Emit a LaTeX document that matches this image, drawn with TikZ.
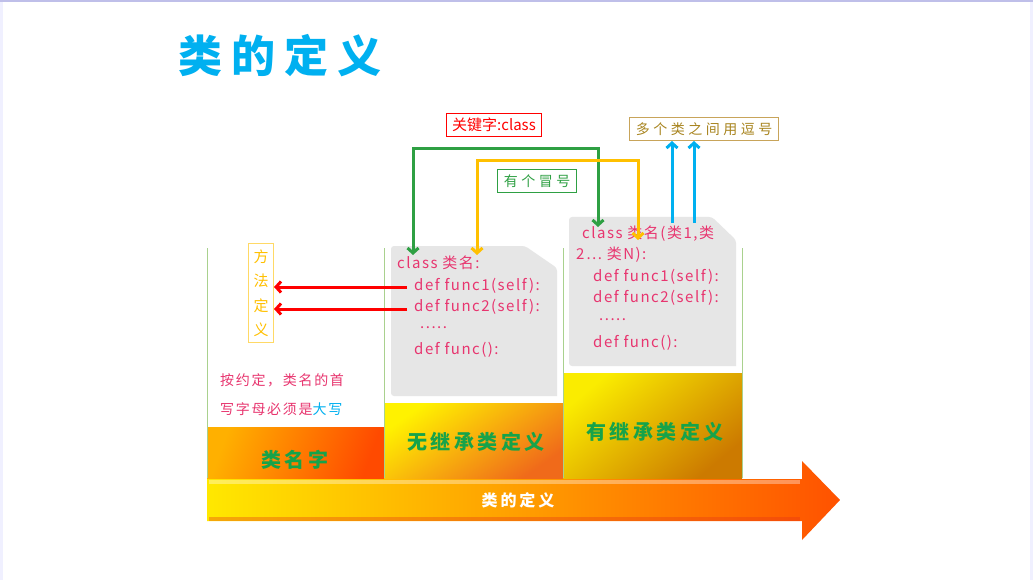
\documentclass[tikz,border=0pt]{standalone}
\usepackage{fontspec}
\setmainfont{Noto Sans CJK SC}
\usetikzlibrary{arrows.meta}

\definecolor{skyblue}{HTML}{00B0F0}
\definecolor{codepink}{HTML}{E8356F}
\definecolor{linkgreen}{HTML}{2EA043}
\definecolor{titlegreen}{HTML}{16A34A}
\definecolor{amber}{HTML}{FFC000}
\definecolor{tanline}{HTML}{C8A45A}
\definecolor{tantext}{HTML}{A8841E}
\definecolor{colline}{HTML}{A9D18E}
\definecolor{cardgray}{HTML}{E6E6E6}
\definecolor{blockAtop}{HTML}{FFB000}
\definecolor{blockAbot}{HTML}{FF4A00}
\definecolor{blockBtop}{HTML}{FFF200}
\definecolor{blockBmid}{HTML}{F59A1C}
\definecolor{blockBbot}{HTML}{F06A1A}
\definecolor{blockCtop}{HTML}{FAEC00}
\definecolor{blockCmid}{HTML}{DC9A00}
\definecolor{blockCbot}{HTML}{CC7A00}
\definecolor{arrowL}{HTML}{FFE800}
\definecolor{arrowM}{HTML}{FF9A00}
\definecolor{arrowR}{HTML}{FF5200}

\tikzset{
  tip/.style={-{Straight Barb[length=5pt,width=11pt]}},
  twotip/.style={{Straight Barb[length=5pt,width=11pt]}-{Straight Barb[length=5pt,width=11pt]}},
  link/.style={line width=3pt},
  code/.style={anchor=west, inner sep=0pt, text=codepink,
    font=\fontsize{15}{16}\selectfont\addfontfeature{LetterSpace=10}},
  coltitle/.style={text=titlegreen, font=\fontsize{20}{22}\selectfont\bfseries\addfontfeature{LetterSpace=18}},
  tag/.style={draw, line width=1pt, inner xsep=6pt, inner ysep=5pt, fill=white},
  colrule/.style={draw=colline, line width=0.8pt},
}

\begin{document}
\begin{tikzpicture}[x=1pt,y=-1pt]
\useasboundingbox (0,0) rectangle (1033,580);
\fill[white] (0,0) rectangle (1033,580);
% slide frame
\fill[blue!6] (0,0) rectangle (3,580);
\fill[blue!6] (1030,0) rectangle (1033,580);
\fill[black!35!blue!25] (0,0) rectangle (1033,2);

% title
\node[anchor=west, text=skyblue, inner sep=0pt,
      font=\fontsize{44}{46}\selectfont\bfseries\addfontfeature{LetterSpace=21}]
  (title) at (178,56) {类的定义};

% coloured column blocks
\shade[top color=blockAtop, bottom color=blockAbot, shading angle=70]
  (207,427) rectangle (384,478);
\shade[top color=blockBtop, middle color=blockBmid, bottom color=blockBbot, shading angle=35]
  (384,403) rectangle (563,478);
\shade[top color=blockCtop, middle color=blockCmid, bottom color=blockCbot, shading angle=40]
  (563,373) rectangle (742,478);

% column rules
\draw[colrule] (207,248) -- (207,478);
\draw[colrule] (384,248) -- (384,478);
\draw[colrule] (563,248) -- (563,478);
\draw[colrule] (742,248) -- (742,478);

\node[coltitle] (name) at (295,460) {类名字};
\node[coltitle] (plain) at (476,442) {无继承类定义};
\node[coltitle] (inherit) at (655,432) {有继承类定义};

% main timeline arrow
\shade[left color=arrowL, middle color=arrowM, right color=arrowR]
  (207,479) -- (802,479) -- (802,461) -- (840,500) -- (802,540) -- (802,521) -- (207,521) -- cycle;
\fill[white, opacity=0.35] (209,480) rectangle (800,484);
\fill[red!60!brown, opacity=0.35] (209,517) rectangle (800,521);
\node[text=white, font=\fontsize{16}{18}\selectfont\bfseries\addfontfeature{LetterSpace=18}]
  (axis) at (518,500) {类的定义};

% code cards
\fill[cardgray, rounded corners=3pt] (391,246) -- (525,246) -- (557,268) [sharp corners]
  -- (557,396) [rounded corners=3pt] -- (391,396) -- cycle;
\fill[cardgray, rounded corners=3pt] (569,217) -- (712,217) -- (736,240) [sharp corners]
  -- (736,366) [rounded corners=3pt] -- (569,366) -- cycle;

% plain class
\node[code] (p1) at (397,263) {class 类名:};
\node[code] (p2) at (414,286) {def func1(self):};
\node[code] (p3) at (414,307) {def func2(self):};
\node[code] (p4) at (420,328) {.....};
\node[code] (p5) at (414,350) {def func():};

% inheriting class
\node[code] (q1) at (582,234) {class 类名(类1,类};
\node[code] (q2) at (576,255) {2… 类N):};
\node[code] (q3) at (593,277) {def func1(self):};
\node[code] (q4) at (593,298) {def func2(self):};
\node[code] (q5) at (599,320) {.....};
\node[code] (q6) at (593,343) {def func():};

% method label
\node[draw=amber!60, line width=1pt, text=amber, inner xsep=5pt, inner ysep=6pt,
      font=\fontsize{15}{24.5}\selectfont, align=center]
  (method) at (261,293) {方\\法\\定\\义};

% naming rule note
\node[text=codepink, font=\fontsize{14}{29}\selectfont\addfontfeature{LetterSpace=12},
      align=left, anchor=west, inner sep=0pt]
  (rule) at (220,395) {按约定，类名的首\\写字母必须是\textcolor{skyblue}{大写}};

% callout labels
\node[tag, draw=red, text=red, font=\fontsize{15}{16}\selectfont]
  (kw) at (494,125) {关键字:class};
\node[tag, draw=linkgreen, text=linkgreen, font=\fontsize{14}{16}\selectfont\addfontfeature{LetterSpace=25}]
  (colon) at (537,181) {有个冒号};
\node[tag, draw=tanline, text=tantext, font=\fontsize{14}{16}\selectfont\addfontfeature{LetterSpace=25}]
  (comma) at (704,129) {多个类之间用逗号};

% connectors
\coordinate (gA) at (413,255);
\coordinate (gB) at (598,227);
\draw[link, linkgreen, twotip] (gA) -- ++(0,-106) -| (gB);

\coordinate (yA) at (477,255);
\coordinate (yB) at (638,240);
\draw[link, amber, twotip] (yA) -- ++(0,-94) -| (yB);

\coordinate (b1) at (672,223);
\coordinate (b2) at (694,223);
\draw[link, skyblue, tip] (b1) -- (b1 |- comma.south);
\draw[link, skyblue, tip] (b2) -- (b2 |- comma.south);

\coordinate (r1) at (407,287);
\coordinate (r2) at (407,309);
\draw[link, red, tip] (r1) -- (r1 -| method.east);
\draw[link, red, tip] (r2) -- (r2 -| method.east);
\end{tikzpicture}
\end{document}
